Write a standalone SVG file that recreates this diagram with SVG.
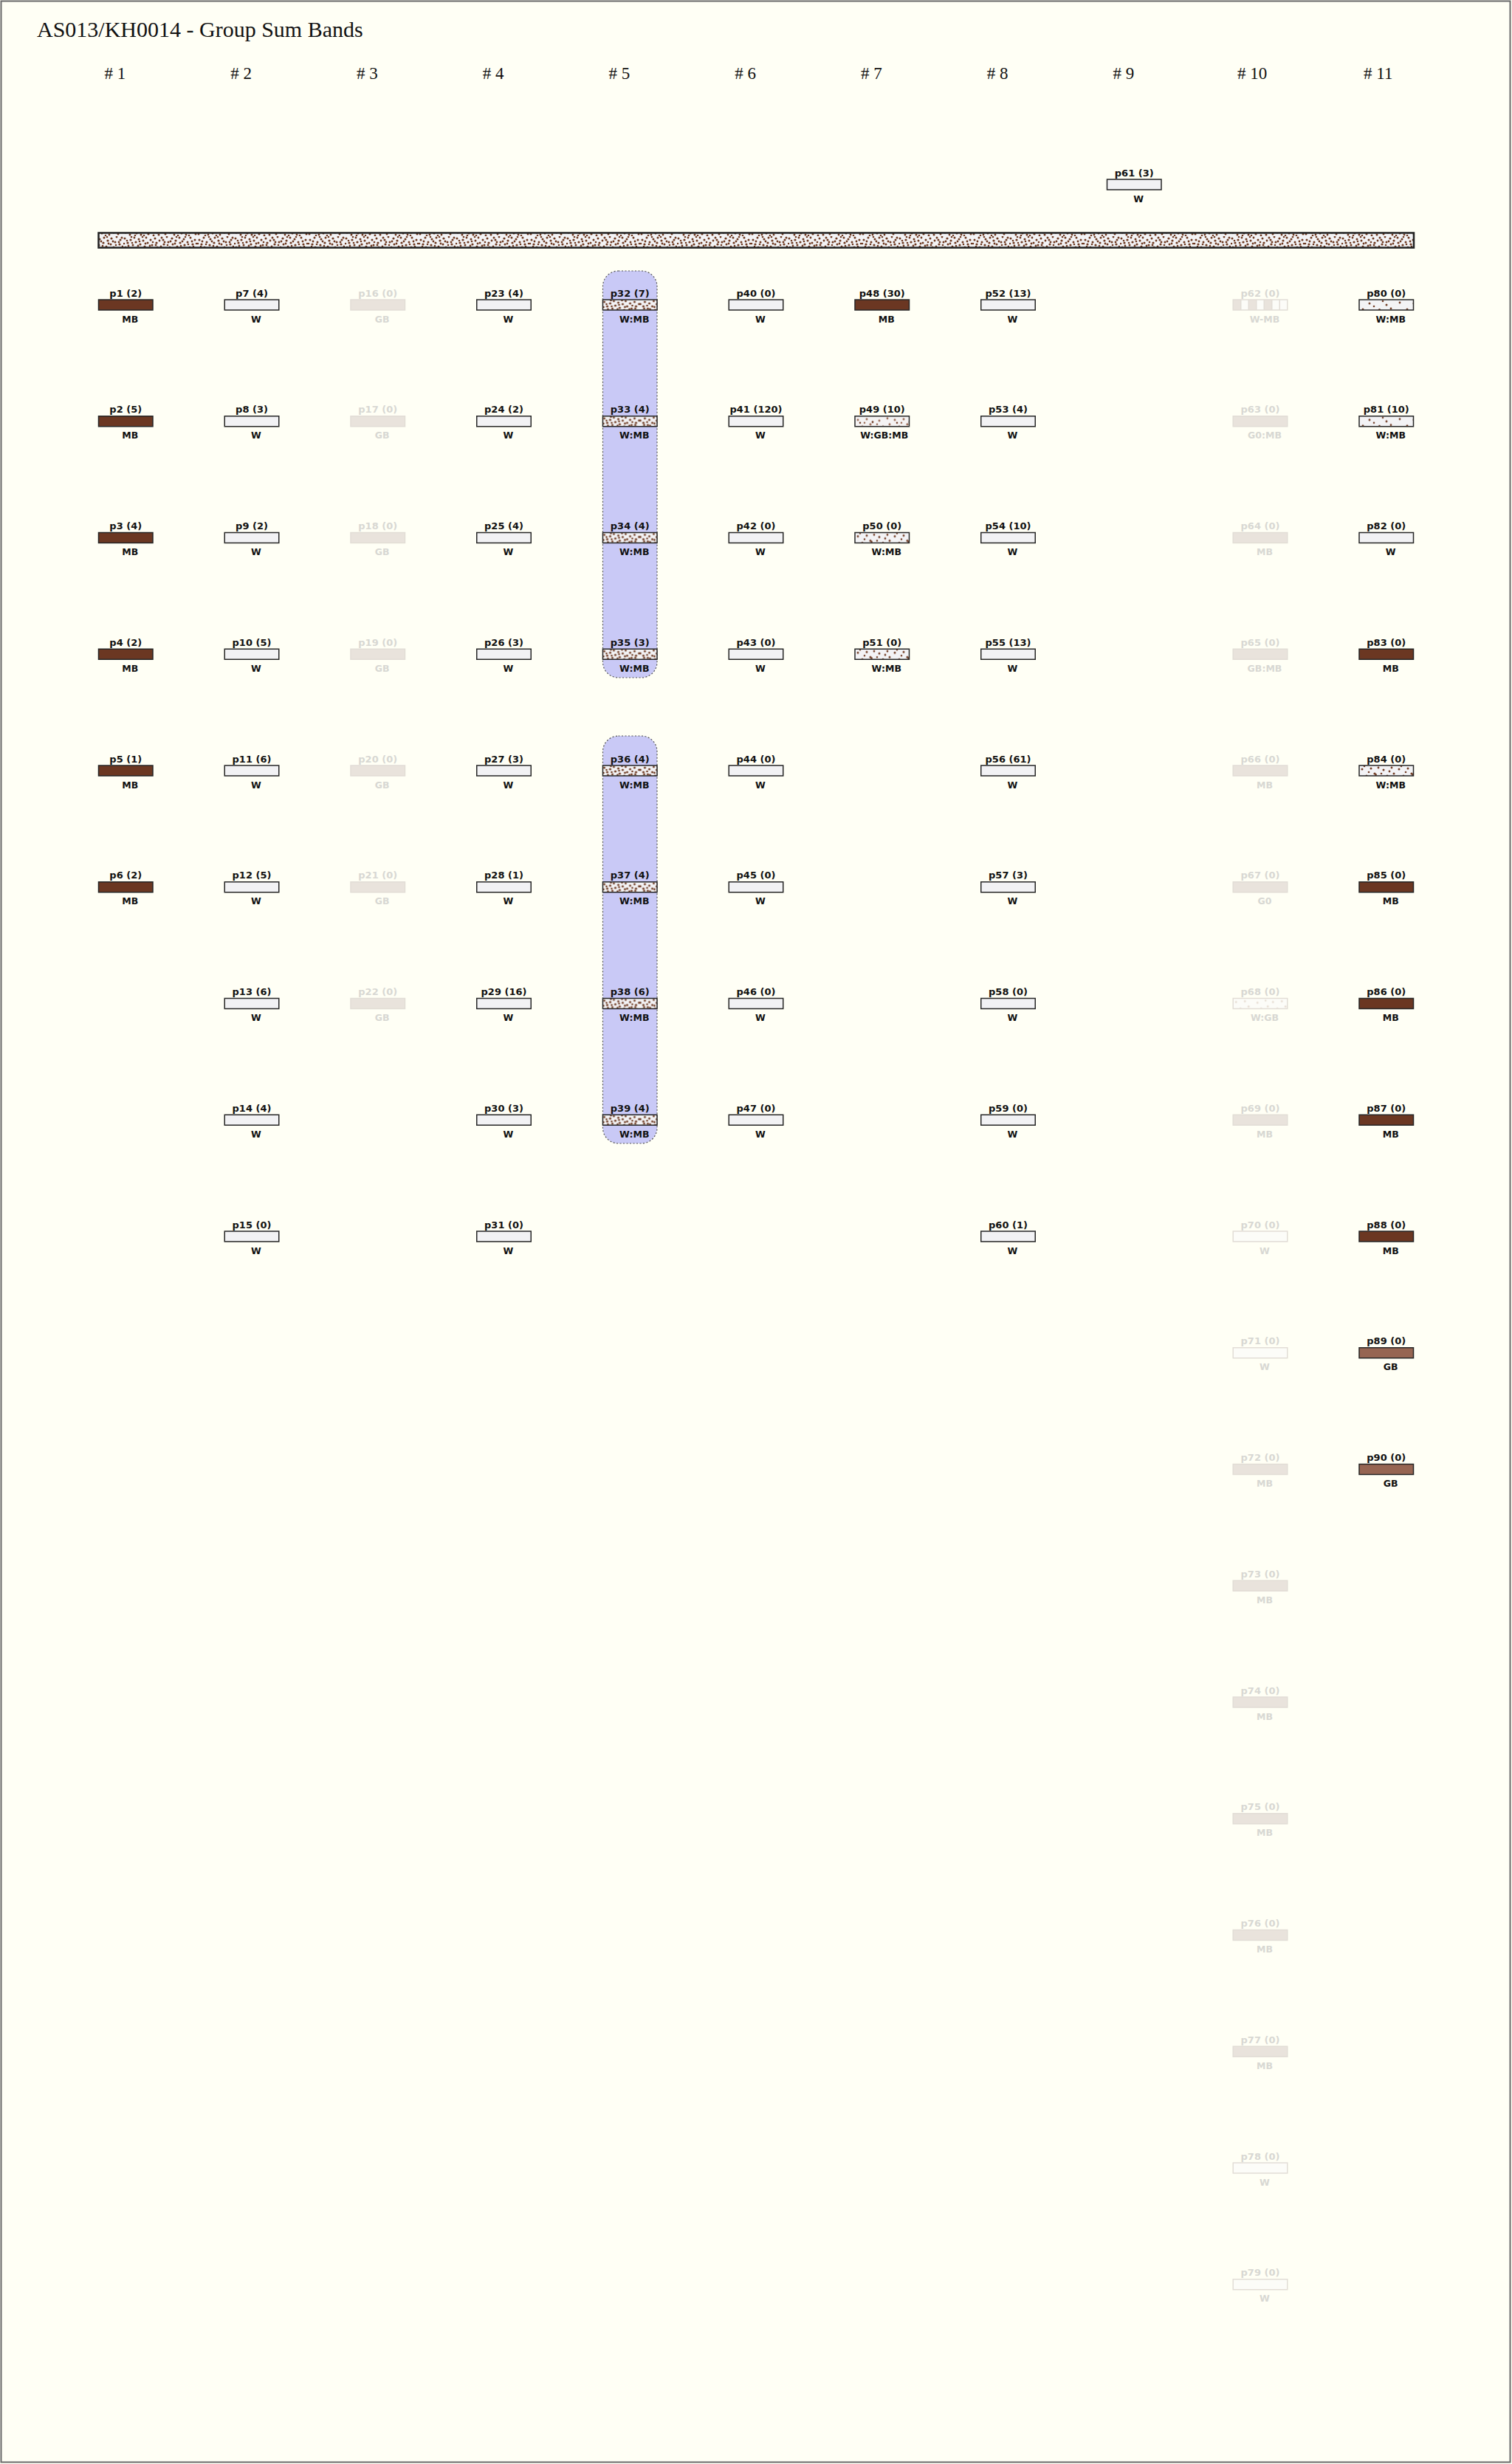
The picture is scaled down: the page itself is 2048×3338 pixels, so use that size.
<svg xmlns="http://www.w3.org/2000/svg" width="2048" height="3338" viewBox="0 0 2048 3338">
<defs>
<style>
.bg{fill:#fffff5}
.frame{fill:none;stroke:#6a6a6a;stroke-width:2}
.title{font-family:"Liberation Serif",serif;font-size:30px;fill:#111}
.hdr{font-family:"Liberation Serif",serif;font-size:23px;fill:#111}
.lt{font-family:"DejaVu Sans",sans-serif;font-weight:bold;font-size:13px;fill:#111;text-anchor:middle}
.lb{font-family:"DejaVu Sans",sans-serif;font-weight:bold;font-size:12.5px;fill:#111;text-anchor:middle}
.f .lt,.f .lb{fill:#d8d8d3}
.box{stroke:#262626;stroke-width:1.5}
.fbox{stroke:#e2ddd6;stroke-width:1.5}
.W{fill:#f2f2f4}
.MB{fill:#6b3722}
.GB{fill:#966552}
.FB{fill:#e9e3dc}
.FW{fill:#fcfcf8}
.hl{fill:#c9c9f6;stroke:#555;stroke-width:1.2;stroke-dasharray:2 2.5}
</style>
<g id="dotsDense">
<circle cx="2" cy="3" r="1.5"/><circle cx="6" cy="9" r="1.6"/><circle cx="3" cy="15" r="1.5"/><circle cx="9" cy="18" r="1.5"/>
<circle cx="10" cy="5" r="1.6"/><circle cx="13" cy="12" r="1.5"/><circle cx="15" cy="2" r="1.4"/><circle cx="17" cy="8" r="1.6"/>
<circle cx="18" cy="16" r="1.5"/><circle cx="21" cy="4" r="1.5"/><circle cx="23" cy="11" r="1.6"/><circle cx="24" cy="18" r="1.5"/>
<circle cx="27" cy="6" r="1.5"/><circle cx="29" cy="14" r="1.6"/><circle cx="31" cy="2" r="1.4"/><circle cx="33" cy="9" r="1.5"/>
<circle cx="34" cy="17" r="1.6"/><circle cx="37" cy="5" r="1.5"/><circle cx="39" cy="12" r="1.5"/><circle cx="41" cy="19" r="1.4"/>
<circle cx="43" cy="3" r="1.5"/><circle cx="45" cy="9" r="1.6"/><circle cx="46" cy="15" r="1.5"/><circle cx="49" cy="6" r="1.4"/>
<circle cx="48" cy="18" r="1.5"/><circle cx="7" cy="13" r="1.4"/><circle cx="12" cy="9" r="1.3"/><circle cx="20" cy="13" r="1.4"/>
<circle cx="26" cy="1" r="1.3"/><circle cx="30" cy="10" r="1.4"/><circle cx="36" cy="13" r="1.4"/><circle cx="40" cy="8" r="1.3"/>
<circle cx="44" cy="12" r="1.4"/><circle cx="1" cy="10" r="1.3"/><circle cx="16" cy="19" r="1.3"/><circle cx="28" cy="19" r="1.3"/>
<circle cx="11" cy="1" r="1.3"/><circle cx="22" cy="7" r="1.3"/><circle cx="5" cy="6" r="1.3"/>
</g>
<pattern id="speckD" patternUnits="userSpaceOnUse" width="150" height="20">
<rect width="150" height="20" fill="#f3f3f5"/>
<g fill="#6e3a22">
<use href="#dotsDense"/>
<use href="#dotsDense" transform="translate(100,0) scale(-1,1)"/>
<use href="#dotsDense" transform="translate(100,20) scale(1,-1)"/>
</g>
</pattern>
<pattern id="speckB" patternUnits="userSpaceOnUse" width="150" height="20" patternTransform="translate(17,0)">
<rect width="150" height="20" fill="#f3f3f5"/>
<g fill="#6e3a22">
<use href="#dotsDense"/>
<use href="#dotsDense" transform="translate(100,20) scale(-1,-1)"/>
<use href="#dotsDense" transform="translate(100,20) scale(1,-1)"/>
</g>
</pattern>
<pattern id="speckM" patternUnits="userSpaceOnUse" width="50" height="20">
<rect width="50" height="20" fill="#f3f3f5"/>
<g fill="#744028">
<circle cx="4" cy="5" r="1.5"/><circle cx="10" cy="14" r="1.5"/><circle cx="16" cy="4" r="1.5"/><circle cx="21" cy="11" r="1.6"/>
<circle cx="22.5" cy="12.5" r="1.4"/><circle cx="28" cy="17" r="1.5"/><circle cx="33" cy="6" r="1.5"/><circle cx="38" cy="14" r="1.5"/>
<circle cx="44" cy="3" r="1.4"/><circle cx="47" cy="11" r="1.5"/><circle cx="2" cy="17" r="1.4"/><circle cx="13" cy="9" r="1.3"/>
<circle cx="26" cy="3" r="1.4"/><circle cx="35" cy="18" r="1.4"/><circle cx="41" cy="8" r="1.4"/><circle cx="7" cy="1" r="1.3"/>
<circle cx="18" cy="18" r="1.4"/><circle cx="30" cy="11" r="1.3"/>
</g>
</pattern>
<pattern id="speckS" patternUnits="userSpaceOnUse" width="60" height="20">
<rect width="60" height="20" fill="#f3f3f5"/>
<g fill="#744028">
<circle cx="5" cy="13" r="1.5"/><circle cx="14" cy="5" r="1.5"/><circle cx="26" cy="15" r="1.5"/><circle cx="27.5" cy="13.5" r="1.4"/>
<circle cx="37" cy="7" r="1.5"/><circle cx="48" cy="16" r="1.5"/><circle cx="55" cy="4" r="1.4"/><circle cx="20" cy="9" r="1.3"/>
<circle cx="43" cy="12" r="1.4"/><circle cx="9" cy="18" r="1.3"/><circle cx="32" cy="2" r="1.3"/>
</g>
</pattern>
<pattern id="speckGB" patternUnits="userSpaceOnUse" width="50" height="20">
<rect width="50" height="20" fill="#f5f3f3"/>
<g fill="#9a6a55">
<circle cx="4" cy="5" r="1.5"/><circle cx="10" cy="14" r="1.5"/><circle cx="16" cy="4" r="1.5"/><circle cx="21" cy="11" r="1.6"/>
<circle cx="28" cy="17" r="1.5"/><circle cx="33" cy="6" r="1.5"/><circle cx="38" cy="14" r="1.5"/><circle cx="44" cy="3" r="1.4"/>
<circle cx="47" cy="11" r="1.5"/><circle cx="13" cy="9" r="1.3"/><circle cx="30" cy="11" r="1.3"/><circle cx="2" cy="17" r="1.4"/>
</g>
<g fill="#6e3a22"><circle cx="24" cy="8" r="1.4"/><circle cx="7" cy="9" r="1.3"/><circle cx="41" cy="17" r="1.3"/><circle cx="18" cy="17" r="1.3"/></g>
</pattern>
<pattern id="speckF" patternUnits="userSpaceOnUse" width="50" height="20">
<rect width="50" height="20" fill="#fcfcf8"/>
<g fill="#e6ddd2">
<circle cx="4" cy="5" r="1.4"/><circle cx="10" cy="14" r="1.4"/><circle cx="16" cy="4" r="1.4"/><circle cx="21" cy="11" r="1.5"/>
<circle cx="28" cy="17" r="1.4"/><circle cx="33" cy="6" r="1.4"/><circle cx="38" cy="14" r="1.4"/><circle cx="44" cy="3" r="1.3"/>
<circle cx="47" cy="11" r="1.4"/>
</g>
</pattern>
</defs>

<rect class="bg" x="0" y="0" width="2048" height="3338"/>
<rect class="frame" x="1.5" y="1.5" width="2044" height="3334"/>

<text class="title" x="50" y="50">AS013/KH0014 - Group Sum Bands</text>

<g id="headers">
<text class="hdr" x="141.5" y="107"># 1</text>
<text class="hdr" x="312.25" y="107"># 2</text>
<text class="hdr" x="483" y="107"># 3</text>
<text class="hdr" x="653.75" y="107"># 4</text>
<text class="hdr" x="824.5" y="107"># 5</text>
<text class="hdr" x="995.25" y="107"># 6</text>
<text class="hdr" x="1166" y="107"># 7</text>
<text class="hdr" x="1336.75" y="107"># 8</text>
<text class="hdr" x="1507.5" y="107"># 9</text>
<text class="hdr" x="1676" y="107"># 10</text>
<text class="hdr" x="1847" y="107"># 11</text>
</g>

<g id="group-sum-band">
<rect x="133.5" y="315.5" width="1781.5" height="20" fill="url(#speckB)" stroke="#222" stroke-width="2.5"/>
</g>

<g id="highlights">
<rect class="hl" x="816.5" y="367" width="73.5" height="551" rx="21" ry="21"/>
<rect class="hl" x="816.5" y="997" width="73.5" height="552" rx="21" ry="21"/>
</g>

<!-- Column 1 -->
<g id="p1" transform="translate(133.5,406)"><text class="lt" x="36.75" y="-4.5">p1 (2)</text><rect class="box MB" width="73.5" height="14"/><text class="lb" x="42.75" y="30.5">MB</text></g>
<g id="p2" transform="translate(133.5,563.75)"><text class="lt" x="36.75" y="-4.5">p2 (5)</text><rect class="box MB" width="73.5" height="14"/><text class="lb" x="42.75" y="30.5">MB</text></g>
<g id="p3" transform="translate(133.5,721.5)"><text class="lt" x="36.75" y="-4.5">p3 (4)</text><rect class="box MB" width="73.5" height="14"/><text class="lb" x="42.75" y="30.5">MB</text></g>
<g id="p4" transform="translate(133.5,879.25)"><text class="lt" x="36.75" y="-4.5">p4 (2)</text><rect class="box MB" width="73.5" height="14"/><text class="lb" x="42.75" y="30.5">MB</text></g>
<g id="p5" transform="translate(133.5,1037)"><text class="lt" x="36.75" y="-4.5">p5 (1)</text><rect class="box MB" width="73.5" height="14"/><text class="lb" x="42.75" y="30.5">MB</text></g>
<g id="p6" transform="translate(133.5,1194.75)"><text class="lt" x="36.75" y="-4.5">p6 (2)</text><rect class="box MB" width="73.5" height="14"/><text class="lb" x="42.75" y="30.5">MB</text></g>

<!-- Column 2 -->
<g id="p7" transform="translate(304.25,406)"><text class="lt" x="36.75" y="-4.5">p7 (4)</text><rect class="box W" width="73.5" height="14"/><text class="lb" x="42.75" y="30.5">W</text></g>
<g id="p8" transform="translate(304.25,563.75)"><text class="lt" x="36.75" y="-4.5">p8 (3)</text><rect class="box W" width="73.5" height="14"/><text class="lb" x="42.75" y="30.5">W</text></g>
<g id="p9" transform="translate(304.25,721.5)"><text class="lt" x="36.75" y="-4.5">p9 (2)</text><rect class="box W" width="73.5" height="14"/><text class="lb" x="42.75" y="30.5">W</text></g>
<g id="p10" transform="translate(304.25,879.25)"><text class="lt" x="36.75" y="-4.5">p10 (5)</text><rect class="box W" width="73.5" height="14"/><text class="lb" x="42.75" y="30.5">W</text></g>
<g id="p11" transform="translate(304.25,1037)"><text class="lt" x="36.75" y="-4.5">p11 (6)</text><rect class="box W" width="73.5" height="14"/><text class="lb" x="42.75" y="30.5">W</text></g>
<g id="p12" transform="translate(304.25,1194.75)"><text class="lt" x="36.75" y="-4.5">p12 (5)</text><rect class="box W" width="73.5" height="14"/><text class="lb" x="42.75" y="30.5">W</text></g>
<g id="p13" transform="translate(304.25,1352.5)"><text class="lt" x="36.75" y="-4.5">p13 (6)</text><rect class="box W" width="73.5" height="14"/><text class="lb" x="42.75" y="30.5">W</text></g>
<g id="p14" transform="translate(304.25,1510.25)"><text class="lt" x="36.75" y="-4.5">p14 (4)</text><rect class="box W" width="73.5" height="14"/><text class="lb" x="42.75" y="30.5">W</text></g>
<g id="p15" transform="translate(304.25,1668)"><text class="lt" x="36.75" y="-4.5">p15 (0)</text><rect class="box W" width="73.5" height="14"/><text class="lb" x="42.75" y="30.5">W</text></g>

<!-- Column 3 (faded) -->
<g id="p16" class="f" transform="translate(475,406)"><text class="lt" x="36.75" y="-4.5">p16 (0)</text><rect class="fbox FB" width="73.5" height="14"/><text class="lb" x="42.75" y="30.5">GB</text></g>
<g id="p17" class="f" transform="translate(475,563.75)"><text class="lt" x="36.75" y="-4.5">p17 (0)</text><rect class="fbox FB" width="73.5" height="14"/><text class="lb" x="42.75" y="30.5">GB</text></g>
<g id="p18" class="f" transform="translate(475,721.5)"><text class="lt" x="36.75" y="-4.5">p18 (0)</text><rect class="fbox FB" width="73.5" height="14"/><text class="lb" x="42.75" y="30.5">GB</text></g>
<g id="p19" class="f" transform="translate(475,879.25)"><text class="lt" x="36.75" y="-4.5">p19 (0)</text><rect class="fbox FB" width="73.5" height="14"/><text class="lb" x="42.75" y="30.5">GB</text></g>
<g id="p20" class="f" transform="translate(475,1037)"><text class="lt" x="36.75" y="-4.5">p20 (0)</text><rect class="fbox FB" width="73.5" height="14"/><text class="lb" x="42.75" y="30.5">GB</text></g>
<g id="p21" class="f" transform="translate(475,1194.75)"><text class="lt" x="36.75" y="-4.5">p21 (0)</text><rect class="fbox FB" width="73.5" height="14"/><text class="lb" x="42.75" y="30.5">GB</text></g>
<g id="p22" class="f" transform="translate(475,1352.5)"><text class="lt" x="36.75" y="-4.5">p22 (0)</text><rect class="fbox FB" width="73.5" height="14"/><text class="lb" x="42.75" y="30.5">GB</text></g>

<!-- Column 4 -->
<g id="p23" transform="translate(645.75,406)"><text class="lt" x="36.75" y="-4.5">p23 (4)</text><rect class="box W" width="73.5" height="14"/><text class="lb" x="42.75" y="30.5">W</text></g>
<g id="p24" transform="translate(645.75,563.75)"><text class="lt" x="36.75" y="-4.5">p24 (2)</text><rect class="box W" width="73.5" height="14"/><text class="lb" x="42.75" y="30.5">W</text></g>
<g id="p25" transform="translate(645.75,721.5)"><text class="lt" x="36.75" y="-4.5">p25 (4)</text><rect class="box W" width="73.5" height="14"/><text class="lb" x="42.75" y="30.5">W</text></g>
<g id="p26" transform="translate(645.75,879.25)"><text class="lt" x="36.75" y="-4.5">p26 (3)</text><rect class="box W" width="73.5" height="14"/><text class="lb" x="42.75" y="30.5">W</text></g>
<g id="p27" transform="translate(645.75,1037)"><text class="lt" x="36.75" y="-4.5">p27 (3)</text><rect class="box W" width="73.5" height="14"/><text class="lb" x="42.75" y="30.5">W</text></g>
<g id="p28" transform="translate(645.75,1194.75)"><text class="lt" x="36.75" y="-4.5">p28 (1)</text><rect class="box W" width="73.5" height="14"/><text class="lb" x="42.75" y="30.5">W</text></g>
<g id="p29" transform="translate(645.75,1352.5)"><text class="lt" x="36.75" y="-4.5">p29 (16)</text><rect class="box W" width="73.5" height="14"/><text class="lb" x="42.75" y="30.5">W</text></g>
<g id="p30" transform="translate(645.75,1510.25)"><text class="lt" x="36.75" y="-4.5">p30 (3)</text><rect class="box W" width="73.5" height="14"/><text class="lb" x="42.75" y="30.5">W</text></g>
<g id="p31" transform="translate(645.75,1668)"><text class="lt" x="36.75" y="-4.5">p31 (0)</text><rect class="box W" width="73.5" height="14"/><text class="lb" x="42.75" y="30.5">W</text></g>

<!-- Column 5 -->
<g id="p32" transform="translate(816.5,406)"><text class="lt" x="36.75" y="-4.5">p32 (7)</text><rect class="box" fill="url(#speckD)" width="73.5" height="14"/><text class="lb" x="42.75" y="30.5">W:MB</text></g>
<g id="p33" transform="translate(816.5,563.75)"><text class="lt" x="36.75" y="-4.5">p33 (4)</text><rect class="box" fill="url(#speckD)" x="0" width="73.5" height="14"/><text class="lb" x="42.75" y="30.5">W:MB</text></g>
<g id="p34" transform="translate(816.5,721.5)"><text class="lt" x="36.75" y="-4.5">p34 (4)</text><rect class="box" fill="url(#speckD)" width="73.5" height="14"/><text class="lb" x="42.75" y="30.5">W:MB</text></g>
<g id="p35" transform="translate(816.5,879.25)"><text class="lt" x="36.75" y="-4.5">p35 (3)</text><rect class="box" fill="url(#speckD)" width="73.5" height="14"/><text class="lb" x="42.75" y="30.5">W:MB</text></g>
<g id="p36" transform="translate(816.5,1037)"><text class="lt" x="36.75" y="-4.5">p36 (4)</text><rect class="box" fill="url(#speckD)" width="73.5" height="14"/><text class="lb" x="42.75" y="30.5">W:MB</text></g>
<g id="p37" transform="translate(816.5,1194.75)"><text class="lt" x="36.75" y="-4.5">p37 (4)</text><rect class="box" fill="url(#speckD)" width="73.5" height="14"/><text class="lb" x="42.75" y="30.5">W:MB</text></g>
<g id="p38" transform="translate(816.5,1352.5)"><text class="lt" x="36.75" y="-4.5">p38 (6)</text><rect class="box" fill="url(#speckD)" width="73.5" height="14"/><text class="lb" x="42.75" y="30.5">W:MB</text></g>
<g id="p39" transform="translate(816.5,1510.25)"><text class="lt" x="36.75" y="-4.5">p39 (4)</text><rect class="box" fill="url(#speckD)" width="73.5" height="14"/><text class="lb" x="42.75" y="30.5">W:MB</text></g>

<!-- Column 6 -->
<g id="p40" transform="translate(987.25,406)"><text class="lt" x="36.75" y="-4.5">p40 (0)</text><rect class="box W" width="73.5" height="14"/><text class="lb" x="42.75" y="30.5">W</text></g>
<g id="p41" transform="translate(987.25,563.75)"><text class="lt" x="36.75" y="-4.5">p41 (120)</text><rect class="box W" width="73.5" height="14"/><text class="lb" x="42.75" y="30.5">W</text></g>
<g id="p42" transform="translate(987.25,721.5)"><text class="lt" x="36.75" y="-4.5">p42 (0)</text><rect class="box W" width="73.5" height="14"/><text class="lb" x="42.75" y="30.5">W</text></g>
<g id="p43" transform="translate(987.25,879.25)"><text class="lt" x="36.75" y="-4.5">p43 (0)</text><rect class="box W" width="73.5" height="14"/><text class="lb" x="42.75" y="30.5">W</text></g>
<g id="p44" transform="translate(987.25,1037)"><text class="lt" x="36.75" y="-4.5">p44 (0)</text><rect class="box W" width="73.5" height="14"/><text class="lb" x="42.75" y="30.5">W</text></g>
<g id="p45" transform="translate(987.25,1194.75)"><text class="lt" x="36.75" y="-4.5">p45 (0)</text><rect class="box W" width="73.5" height="14"/><text class="lb" x="42.75" y="30.5">W</text></g>
<g id="p46" transform="translate(987.25,1352.5)"><text class="lt" x="36.75" y="-4.5">p46 (0)</text><rect class="box W" width="73.5" height="14"/><text class="lb" x="42.75" y="30.5">W</text></g>
<g id="p47" transform="translate(987.25,1510.25)"><text class="lt" x="36.75" y="-4.5">p47 (0)</text><rect class="box W" width="73.5" height="14"/><text class="lb" x="42.75" y="30.5">W</text></g>

<!-- Column 7 -->
<g id="p48" transform="translate(1158,406)"><text class="lt" x="36.75" y="-4.5">p48 (30)</text><rect class="box MB" width="73.5" height="14"/><text class="lb" x="42.75" y="30.5">MB</text></g>
<g id="p49" transform="translate(1158,563.75)"><text class="lt" x="36.75" y="-4.5">p49 (10)</text><rect class="box" fill="url(#speckGB)" width="73.5" height="14"/><text class="lb" x="39.75" y="30.5">W:GB:MB</text></g>
<g id="p50" transform="translate(1158,721.5)"><text class="lt" x="36.75" y="-4.5">p50 (0)</text><rect class="box" fill="url(#speckM)" width="73.5" height="14"/><text class="lb" x="42.75" y="30.5">W:MB</text></g>
<g id="p51" transform="translate(1158,879.25)"><text class="lt" x="36.75" y="-4.5">p51 (0)</text><rect class="box" fill="url(#speckM)" width="73.5" height="14"/><text class="lb" x="42.75" y="30.5">W:MB</text></g>

<!-- Column 8 -->
<g id="p52" transform="translate(1328.75,406)"><text class="lt" x="36.75" y="-4.5">p52 (13)</text><rect class="box W" width="73.5" height="14"/><text class="lb" x="42.75" y="30.5">W</text></g>
<g id="p53" transform="translate(1328.75,563.75)"><text class="lt" x="36.75" y="-4.5">p53 (4)</text><rect class="box W" width="73.5" height="14"/><text class="lb" x="42.75" y="30.5">W</text></g>
<g id="p54" transform="translate(1328.75,721.5)"><text class="lt" x="36.75" y="-4.5">p54 (10)</text><rect class="box W" width="73.5" height="14"/><text class="lb" x="42.75" y="30.5">W</text></g>
<g id="p55" transform="translate(1328.75,879.25)"><text class="lt" x="36.75" y="-4.5">p55 (13)</text><rect class="box W" width="73.5" height="14"/><text class="lb" x="42.75" y="30.5">W</text></g>
<g id="p56" transform="translate(1328.75,1037)"><text class="lt" x="36.75" y="-4.5">p56 (61)</text><rect class="box W" width="73.5" height="14"/><text class="lb" x="42.75" y="30.5">W</text></g>
<g id="p57" transform="translate(1328.75,1194.75)"><text class="lt" x="36.75" y="-4.5">p57 (3)</text><rect class="box W" width="73.5" height="14"/><text class="lb" x="42.75" y="30.5">W</text></g>
<g id="p58" transform="translate(1328.75,1352.5)"><text class="lt" x="36.75" y="-4.5">p58 (0)</text><rect class="box W" width="73.5" height="14"/><text class="lb" x="42.75" y="30.5">W</text></g>
<g id="p59" transform="translate(1328.75,1510.25)"><text class="lt" x="36.75" y="-4.5">p59 (0)</text><rect class="box W" width="73.5" height="14"/><text class="lb" x="42.75" y="30.5">W</text></g>
<g id="p60" transform="translate(1328.75,1668)"><text class="lt" x="36.75" y="-4.5">p60 (1)</text><rect class="box W" width="73.5" height="14"/><text class="lb" x="42.75" y="30.5">W</text></g>

<!-- Column 9 -->
<g id="p61" transform="translate(1499.5,243)"><text class="lt" x="36.75" y="-4.5">p61 (3)</text><rect class="box W" width="73.5" height="14"/><text class="lb" x="42.75" y="30.5">W</text></g>

<!-- Column 10 (faded) -->
<g id="p62" class="f" transform="translate(1670.25,406)"><text class="lt" x="36.75" y="-4.5">p62 (0)</text><rect class="FW" width="73.5" height="14"/><rect class="FB" x="0" width="10.5" height="14"/><rect class="FB" x="21" width="10.5" height="14"/><rect class="FB" x="42" width="10.5" height="14"/><path d="M10.5 0V14M21 0V14M31.5 0V14M42 0V14M52.5 0V14M63 0V14" stroke="#e2ddd6" stroke-width="1.5"/><rect class="fbox" fill="none" width="73.5" height="14"/><text class="lb" x="42.75" y="30.5">W-MB</text></g>
<g id="p63" class="f" transform="translate(1670.25,563.75)"><text class="lt" x="36.75" y="-4.5">p63 (0)</text><rect class="fbox FB" width="73.5" height="14"/><text class="lb" x="42.75" y="30.5">G0:MB</text></g>
<g id="p64" class="f" transform="translate(1670.25,721.5)"><text class="lt" x="36.75" y="-4.5">p64 (0)</text><rect class="fbox FB" width="73.5" height="14"/><text class="lb" x="42.75" y="30.5">MB</text></g>
<g id="p65" class="f" transform="translate(1670.25,879.25)"><text class="lt" x="36.75" y="-4.5">p65 (0)</text><rect class="fbox FB" width="73.5" height="14"/><text class="lb" x="42.75" y="30.5">GB:MB</text></g>
<g id="p66" class="f" transform="translate(1670.25,1037)"><text class="lt" x="36.75" y="-4.5">p66 (0)</text><rect class="fbox FB" width="73.5" height="14"/><text class="lb" x="42.75" y="30.5">MB</text></g>
<g id="p67" class="f" transform="translate(1670.25,1194.75)"><text class="lt" x="36.75" y="-4.5">p67 (0)</text><rect class="fbox FB" width="73.5" height="14"/><text class="lb" x="42.75" y="30.5">G0</text></g>
<g id="p68" class="f" transform="translate(1670.25,1352.5)"><text class="lt" x="36.75" y="-4.5">p68 (0)</text><rect class="fbox" fill="url(#speckF)" width="73.5" height="14"/><text class="lb" x="42.75" y="30.5">W:GB</text></g>
<g id="p69" class="f" transform="translate(1670.25,1510.25)"><text class="lt" x="36.75" y="-4.5">p69 (0)</text><rect class="fbox FB" width="73.5" height="14"/><text class="lb" x="42.75" y="30.5">MB</text></g>
<g id="p70" class="f" transform="translate(1670.25,1668)"><text class="lt" x="36.75" y="-4.5">p70 (0)</text><rect class="fbox FW" width="73.5" height="14"/><text class="lb" x="42.75" y="30.5">W</text></g>
<g id="p71" class="f" transform="translate(1670.25,1825.75)"><text class="lt" x="36.75" y="-4.5">p71 (0)</text><rect class="fbox FW" width="73.5" height="14"/><text class="lb" x="42.75" y="30.5">W</text></g>
<g id="p72" class="f" transform="translate(1670.25,1983.5)"><text class="lt" x="36.75" y="-4.5">p72 (0)</text><rect class="fbox FB" width="73.5" height="14"/><text class="lb" x="42.75" y="30.5">MB</text></g>
<g id="p73" class="f" transform="translate(1670.25,2141.25)"><text class="lt" x="36.75" y="-4.5">p73 (0)</text><rect class="fbox FB" width="73.5" height="14"/><text class="lb" x="42.75" y="30.5">MB</text></g>
<g id="p74" class="f" transform="translate(1670.25,2299)"><text class="lt" x="36.75" y="-4.5">p74 (0)</text><rect class="fbox FB" width="73.5" height="14"/><text class="lb" x="42.75" y="30.5">MB</text></g>
<g id="p75" class="f" transform="translate(1670.25,2456.75)"><text class="lt" x="36.75" y="-4.5">p75 (0)</text><rect class="fbox FB" width="73.5" height="14"/><text class="lb" x="42.75" y="30.5">MB</text></g>
<g id="p76" class="f" transform="translate(1670.25,2614.5)"><text class="lt" x="36.75" y="-4.5">p76 (0)</text><rect class="fbox FB" width="73.5" height="14"/><text class="lb" x="42.75" y="30.5">MB</text></g>
<g id="p77" class="f" transform="translate(1670.25,2772.25)"><text class="lt" x="36.75" y="-4.5">p77 (0)</text><rect class="fbox FB" width="73.5" height="14"/><text class="lb" x="42.75" y="30.5">MB</text></g>
<g id="p78" class="f" transform="translate(1670.25,2930)"><text class="lt" x="36.75" y="-4.5">p78 (0)</text><rect class="fbox FW" width="73.5" height="14"/><text class="lb" x="42.75" y="30.5">W</text></g>
<g id="p79" class="f" transform="translate(1670.25,3087.75)"><text class="lt" x="36.75" y="-4.5">p79 (0)</text><rect class="fbox FW" width="73.5" height="14"/><text class="lb" x="42.75" y="30.5">W</text></g>

<!-- Column 11 -->
<g id="p80" transform="translate(1841,406)"><text class="lt" x="36.75" y="-4.5">p80 (0)</text><rect class="box" fill="url(#speckS)" width="73.5" height="14"/><text class="lb" x="42.75" y="30.5">W:MB</text></g>
<g id="p81" transform="translate(1841,563.75)"><text class="lt" x="36.75" y="-4.5">p81 (10)</text><rect class="box" fill="url(#speckS)" width="73.5" height="14"/><text class="lb" x="42.75" y="30.5">W:MB</text></g>
<g id="p82" transform="translate(1841,721.5)"><text class="lt" x="36.75" y="-4.5">p82 (0)</text><rect class="box W" width="73.5" height="14"/><text class="lb" x="42.75" y="30.5">W</text></g>
<g id="p83" transform="translate(1841,879.25)"><text class="lt" x="36.75" y="-4.5">p83 (0)</text><rect class="box MB" width="73.5" height="14"/><text class="lb" x="42.75" y="30.5">MB</text></g>
<g id="p84" transform="translate(1841,1037)"><text class="lt" x="36.75" y="-4.5">p84 (0)</text><rect class="box" fill="url(#speckM)" width="73.5" height="14"/><text class="lb" x="42.75" y="30.5">W:MB</text></g>
<g id="p85" transform="translate(1841,1194.75)"><text class="lt" x="36.75" y="-4.5">p85 (0)</text><rect class="box MB" width="73.5" height="14"/><text class="lb" x="42.75" y="30.5">MB</text></g>
<g id="p86" transform="translate(1841,1352.5)"><text class="lt" x="36.75" y="-4.5">p86 (0)</text><rect class="box MB" width="73.5" height="14"/><text class="lb" x="42.75" y="30.5">MB</text></g>
<g id="p87" transform="translate(1841,1510.25)"><text class="lt" x="36.75" y="-4.5">p87 (0)</text><rect class="box MB" width="73.5" height="14"/><text class="lb" x="42.75" y="30.5">MB</text></g>
<g id="p88" transform="translate(1841,1668)"><text class="lt" x="36.75" y="-4.5">p88 (0)</text><rect class="box MB" width="73.5" height="14"/><text class="lb" x="42.75" y="30.5">MB</text></g>
<g id="p89" transform="translate(1841,1825.75)"><text class="lt" x="36.75" y="-4.5">p89 (0)</text><rect class="box GB" width="73.5" height="14"/><text class="lb" x="42.75" y="30.5">GB</text></g>
<g id="p90" transform="translate(1841,1983.5)"><text class="lt" x="36.75" y="-4.5">p90 (0)</text><rect class="box GB" width="73.5" height="14"/><text class="lb" x="42.75" y="30.5">GB</text></g>
</svg>
